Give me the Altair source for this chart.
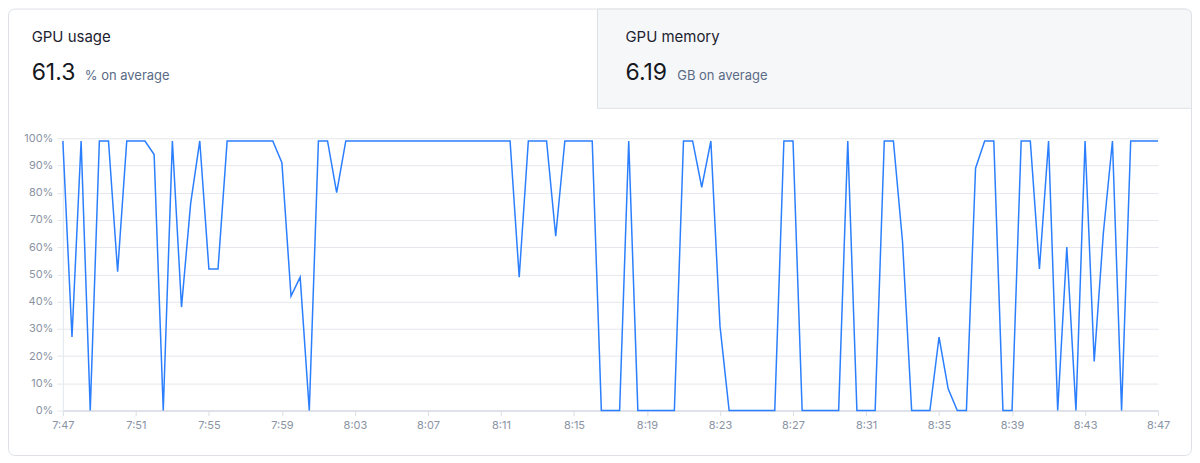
import altair as alt
import pandas as pd

# ---- data ----
start_time = "2024-01-01 07:47:00"
gpu_usage = [
    99, 27, 99, 0, 99, 99, 51, 99, 99, 99,
    94, 0, 99, 38, 76, 99, 52, 52, 99, 99,
    99, 99, 99, 99, 91, 42, 49, 0, 99, 99,
    80, 99, 99, 99, 99, 99, 99, 99, 99, 99,
    99, 99, 99, 99, 99, 99, 99, 99, 99, 99,
    49, 99, 99, 99, 64, 99, 99, 99, 99, 0,
    0, 0, 99, 0, 0, 0, 0, 0, 99, 99,
    82, 99, 31, 0, 0, 0, 0, 0, 0, 99,
    99, 0, 0, 0, 0, 0, 99, 0, 0, 0,
    99, 99, 62, 0, 0, 0, 27, 8, 0, 0,
    89, 99, 99, 0, 0, 99, 99, 52, 99, 0,
    60, 0, 99, 18, 65, 99, 0, 99, 99, 99,
    99,
]
y_ticks = [0, 10, 20, 30, 40, 50, 60, 70, 80, 90, 100]
x_tick_labels = ["7:47", "7:51", "7:55", "7:59", "8:03", "8:07", "8:11", "8:15",
                 "8:19", "8:23", "8:27", "8:31", "8:35", "8:39", "8:43", "8:47"]
tab_titles = ["GPU usage", "GPU memory"]
tab_values = ["61.3", "6.19"]
tab_units = ["% on average", "GB on average"]

times = pd.date_range(start_time, periods=len(gpu_usage), freq="30s")
df = pd.DataFrame({"time": times, "usage": gpu_usage})

x_values = []
for lab in x_tick_labels:
    h, m = lab.split(":")
    x_values.append(alt.DateTime(year=2024, month=1, date=1, hours=int(h), minutes=int(m)))

FONT = "Inter"
one = alt.Data(values=[{}])

card = alt.Chart(one).mark_rect(
    fill="white", fillOpacity=0, stroke="#dde1e6", strokeWidth=1, cornerRadius=6
).encode(
    x=alt.value(-54.5), x2=alt.value(1131.5), y=alt.value(-129.5), y2=alt.value(318)
)

tab2 = alt.Chart(one).mark_rect(
    fill="#f6f7f9", stroke="#dde1e6", strokeWidth=1, cornerRadiusTopRight=6
).encode(
    x=alt.value(536), x2=alt.value(1131.5), y=alt.value(-129.5), y2=alt.value(-30)
)

def txt(s, x, y, size, color):
    return alt.Chart(one).mark_text(
        align="left", baseline="alphabetic", font=FONT, fontSize=size, color=color
    ).encode(x=alt.value(x), y=alt.value(y), text=alt.value(s))

texts = [
    txt(tab_titles[0], -31.3, -96, 15, "#1e2330"),
    txt(tab_values[0], -31.3, -58, 23, "#15181f"),
    txt(tab_units[0], 22, -58, 13, "#5a6b86"),
    txt(tab_titles[1], 564, -96, 15, "#1e2330"),
    txt(tab_values[1], 564, -58, 23, "#15181f"),
    txt(tab_units[1], 616, -58, 13, "#5a6b86"),
]

line = alt.Chart(df).mark_line(color="#2b7fff", strokeWidth=1.5, strokeJoin="miter").encode(
    x=alt.X(
        "time:T",
        scale=alt.Scale(domain=[x_values[0], x_values[-1]], nice=False),
        axis=alt.Axis(
            values=x_values, format="%-H:%M", title=None, grid=False,
            tickSize=5, tickColor="#d9dde3", domainColor="#d9dde3", domainWidth=1.5,
            labelColor="#8a93a3", labelFontSize=11, labelFont=FONT, labelPadding=4,
            labelFlush=False,
        ),
    ),
    y=alt.Y(
        "usage:Q",
        scale=alt.Scale(domain=[0, 100], nice=False),
        axis=alt.Axis(
            values=y_ticks, labelExpr="datum.value + '%'", title=None,
            grid=True, gridColor="#e4e7ec", tickSize=6, tickColor="#e4e7ec",
            domainColor="#e4e7ec", labelColor="#8a93a3", labelFontSize=11,
            labelFont=FONT, labelPadding=4,
        ),
    ),
)

chart = alt.layer(card, tab2, *texts, line).properties(
    width=1098,
    height=273,
    padding={"left": 55, "top": 130, "right": 34, "bottom": 46},
    autosize=alt.AutoSizeParams(type="none"),
    background="white",
).configure_view(strokeWidth=0)

chart.save("out.html", embed_options={"renderer": "svg", "actions": False})
